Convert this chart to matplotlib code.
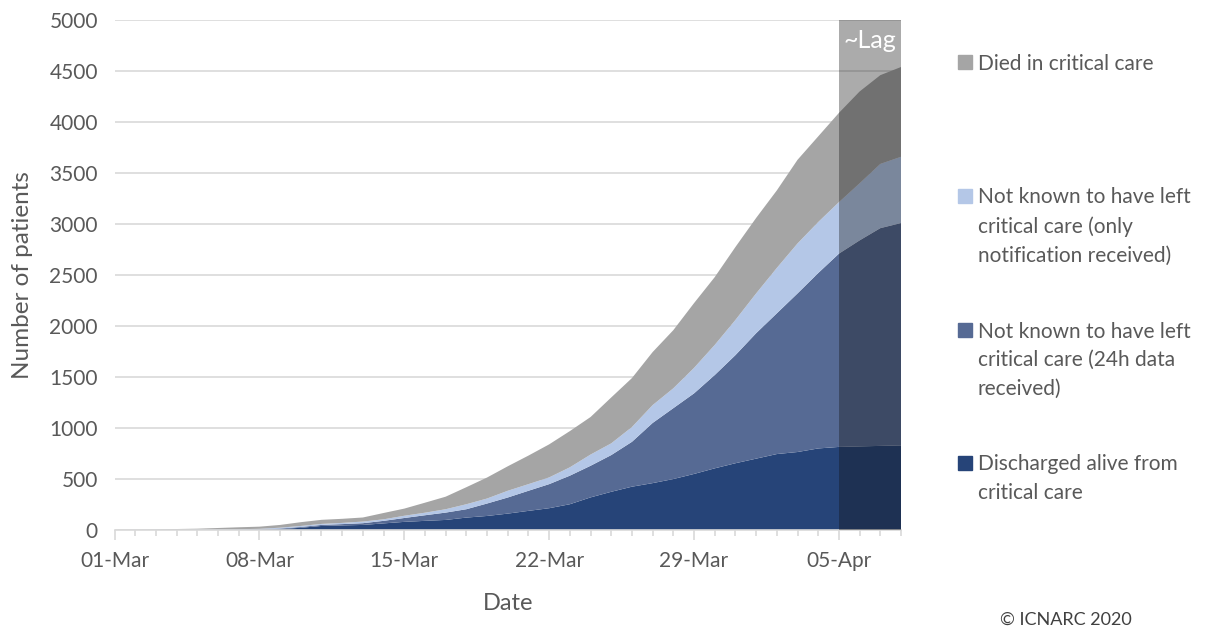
import matplotlib
matplotlib.use("Agg")
import matplotlib.pyplot as plt
import matplotlib.patches as mpatches
import numpy as np
import pandas as pd

# ---- data (patients, by day 01-Mar .. 08-Apr) ----
dates = pd.date_range("2020-03-01", "2020-04-08", freq="D")
discharged = [0, 0, 0, 0, 1, 1, 2, 4, 10, 22, 40, 45, 50, 65, 80, 90, 99, 122, 138, 161,
              188, 214, 253, 320, 375, 425, 460, 500, 550, 605, 655, 700, 745, 765, 800, 815,
              820, 825, 830]
not_left_24h = [0, 0, 1, 1, 1, 2, 3, 4, 5, 8, 10, 13, 17, 25, 38, 55, 72, 82, 122, 158,
                197, 236, 280, 310, 360, 440, 590, 695, 790, 915, 1060, 1230, 1380, 1555, 1720, 1895,
                2020, 2135, 2180]
not_left_notif = [0, 1, 1, 2, 2, 3, 3, 4, 8, 10, 10, 12, 16, 15, 22, 25, 33, 49, 49, 66,
                  65, 66, 82, 110, 115, 145, 175, 195, 250, 295, 345, 390, 445, 490, 500, 505,
                  560, 630, 650]
died = [0, 1, 2, 7, 9, 14, 19, 21, 27, 37, 40, 40, 40, 62, 70, 98, 123, 167, 206, 240,
        280, 324, 355, 368, 450, 480, 520, 570, 635, 665, 715, 740, 760, 820, 840, 875,
        900, 870, 880]
series_labels = ["Discharged alive from\ncritical care",
                 "Not known to have left\ncritical care (24h data\nreceived)",
                 "Not known to have left\ncritical care (only\nnotification received)",
                 "Died in critical care"]
series_colors = ["#264478", "#566A94", "#B4C7E7", "#A5A5A5"]
lag_start = "2020-04-05"
yticks = list(range(0, 5001, 500))

plt.rcParams["font.family"] = ["Lato", "DejaVu Sans"]
txt = "#595959"

fig = plt.figure(figsize=(12.13, 6.28), dpi=100)
ax = fig.add_axes([0.0944, 0.156, 0.6484, 0.812])

x = np.arange(len(dates))
ax.stackplot(x, discharged, not_left_24h, not_left_notif, died,
             colors=series_colors, linewidth=0, zorder=2)

ax.set_xlim(0, len(dates) - 1)
ax.set_ylim(0, 5000)
ax.set_yticks(yticks)
ax.set_yticklabels([str(v) for v in yticks], fontsize=15, color=txt)
ax.tick_params(axis="y", length=0, pad=12)
ax.grid(axis="y", color="#D9D9D9", linewidth=1.2, zorder=0)
ax.set_axisbelow(True)

major = [i for i in x if i % 7 == 0]
ax.set_xticks(major)
ax.set_xticklabels([dates[i].strftime("%d-%b") for i in major], fontsize=15, color=txt)
ax.set_xticks(x, minor=True)
ax.tick_params(axis="x", which="major", length=7, color="#D9D9D9", width=1.2, pad=8)
ax.tick_params(axis="x", which="minor", length=4, color="#D9D9D9", width=1.2)

for s in ["left", "right", "top"]:
    ax.spines[s].set_visible(False)
ax.spines["bottom"].set_color("#D9D9D9")
ax.spines["bottom"].set_linewidth(1.2)

ax.set_xlabel("Date", fontsize=17, color=txt, labelpad=16)
ax.set_ylabel("Number of patients", fontsize=17.5, color=txt, labelpad=12)

# lag overlay
ls = int(np.where(dates == pd.Timestamp(lag_start))[0][0])
ax.axvspan(ls, len(dates) - 1, color="#101010", alpha=0.35, linewidth=0, zorder=3)
ax.text((ls + len(dates) - 1) / 2, 4800, "~Lag", color="white", fontsize=18,
        ha="center", va="center", zorder=4)

# legend (manual layout)
entries = [(3, 62), (2, 196), (1, 330), (0, 463)]
H = 628.0
for idx, ypx in entries:
    yc = 1 - ypx / H
    fig.patches.append(mpatches.Rectangle((0.7895, yc - 0.0115), 0.0115, 0.0222,
                                          transform=fig.transFigure,
                                          color=series_colors[idx]))
    fig.text(0.806, yc + 8.5 / H, series_labels[idx], fontsize=15, color=txt,
             va="top", ha="left", linespacing=1.55)

fig.text(0.824, 0.005, "© ICNARC 2020", fontsize=13, color="#404040")

fig.savefig("out.png", dpi=100)
